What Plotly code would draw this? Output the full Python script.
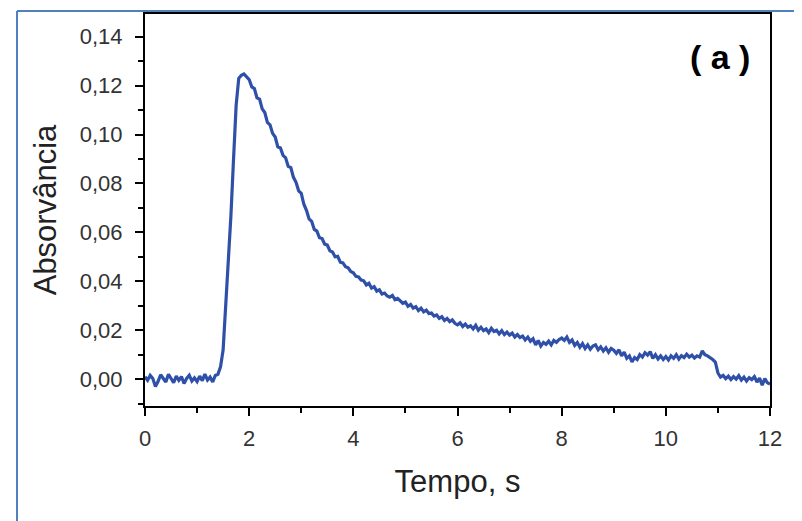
import numpy as np
import plotly.graph_objects as go

# sample times, s (0.05 s grid)
tempo = np.round(np.arange(0, 12.001, 0.05), 2)

# absorbance, one row per second
absorv = [
    # 0.00 - 0.95
    0.0010, -0.0005, 0.0015, 0.0002, -0.0030, -0.0010, 0.0018, 0.0004, -0.0012, 0.0020,
    0.0000, -0.0015, 0.0012, -0.0005, 0.0010, -0.0018, 0.0003, 0.0016, -0.0008, 0.0005,
    # 1.00 - 1.95
    -0.0010, 0.0012, -0.0006, 0.0020, -0.0004, 0.0008, -0.0012, 0.0015, 0.0020, 0.0050,
    0.0120, 0.0300, 0.0480, 0.0670, 0.0900, 0.1120, 0.1230, 0.1242, 0.1248, 0.1238,
    # 2.00 - 2.95
    0.1225, 0.1195, 0.1188, 0.1150, 0.1145, 0.1105, 0.1090, 0.1050, 0.1040, 0.1005,
    0.0990, 0.0950, 0.0945, 0.0915, 0.0905, 0.0870, 0.0865, 0.0825, 0.0805, 0.0770,
    # 3.00 - 3.95
    0.0760, 0.0715, 0.0690, 0.0655, 0.0645, 0.0612, 0.0605, 0.0578, 0.0575, 0.0552,
    0.0548, 0.0525, 0.0520, 0.0500, 0.0502, 0.0478, 0.0475, 0.0460, 0.0455, 0.0440,
    # 4.00 - 4.95
    0.0435, 0.0420, 0.0418, 0.0405, 0.0402, 0.0385, 0.0392, 0.0372, 0.0378, 0.0360,
    0.0365, 0.0348, 0.0352, 0.0340, 0.0335, 0.0342, 0.0325, 0.0330, 0.0318, 0.0310,
    # 5.00 - 5.95
    0.0315, 0.0298, 0.0305, 0.0290, 0.0296, 0.0280, 0.0290, 0.0275, 0.0282, 0.0268,
    0.0270, 0.0258, 0.0262, 0.0248, 0.0255, 0.0240, 0.0248, 0.0235, 0.0242, 0.0228,
    # 6.00 - 6.95
    0.0222, 0.0230, 0.0215, 0.0225, 0.0212, 0.0218, 0.0205, 0.0220, 0.0200, 0.0212,
    0.0198, 0.0205, 0.0190, 0.0208, 0.0195, 0.0200, 0.0185, 0.0198, 0.0182, 0.0192,
    # 7.00 - 7.95
    0.0180, 0.0188, 0.0172, 0.0182, 0.0170, 0.0176, 0.0160, 0.0172, 0.0155, 0.0165,
    0.0140, 0.0158, 0.0135, 0.0150, 0.0142, 0.0155, 0.0140, 0.0158, 0.0150, 0.0162,
    # 8.00 - 8.95
    0.0168, 0.0158, 0.0172, 0.0150, 0.0160, 0.0138, 0.0150, 0.0130, 0.0145, 0.0125,
    0.0140, 0.0122, 0.0135, 0.0140, 0.0120, 0.0132, 0.0115, 0.0128, 0.0110, 0.0125,
    # 9.00 - 9.95
    0.0118, 0.0105, 0.0120, 0.0095, 0.0110, 0.0085, 0.0095, 0.0070, 0.0088, 0.0080,
    0.0100, 0.0090, 0.0108, 0.0098, 0.0112, 0.0085, 0.0100, 0.0082, 0.0095, 0.0080,
    # 10.00 - 10.95
    0.0092, 0.0078, 0.0095, 0.0085, 0.0100, 0.0082, 0.0096, 0.0088, 0.0102, 0.0090,
    0.0098, 0.0086, 0.0095, 0.0090, 0.0115, 0.0100, 0.0095, 0.0088, 0.0080, 0.0070,
    # 11.00 - 11.95
    0.0025, 0.0008, 0.0015, 0.0002, 0.0012, -0.0002, 0.0010, 0.0000, 0.0014, -0.0004,
    0.0008, -0.0008, 0.0006, -0.0002, 0.0010, -0.0012, 0.0004, -0.0025, 0.0002, -0.0015,
    # 12.00
    -0.0020,
]

x_ticks = [0, 2, 4, 6, 8, 10, 12]
y_ticks = [0.00, 0.02, 0.04, 0.06, 0.08, 0.10, 0.12, 0.14]

# page has an 8px body margin, so the figure is 8px smaller each way
W, H = 794, 513
ML, MR, MT, MB = 137, 32, 4, 115
pw, ph = W - ML - MR, H - MT - MB

def px(x):  # figure pixel -> paper x
    return (x - ML) / pw

def py(y):  # figure pixel -> paper y
    return (H - MB - y) / ph

font = "Liberation Sans, Arial, sans-serif"

fig = go.Figure()
fig.add_trace(go.Scatter(
    x=tempo, y=absorv,
    mode='lines',
    line=dict(color='#2f50a8', width=3.2),
    hoverinfo='skip'
))

axis_common = dict(
    showline=True, linecolor='black', linewidth=2, mirror=True,
    ticks='outside', ticklen=8, tickwidth=2, tickcolor='black',
    showgrid=False, zeroline=False,
    tickfont=dict(family=font, size=22, color='#333'),
)

fig.update_layout(
    width=W, height=H,
    showlegend=False,
    plot_bgcolor='white',
    paper_bgcolor='white',
    separators=',.',
    margin=dict(l=ML, r=MR, t=MT, b=MB),
    xaxis=dict(
        range=[0, 12], tickvals=x_ticks, tickformat='d',
        minor=dict(dtick=1, tick0=0, ticks='outside', ticklen=5, tickwidth=2, tickcolor='black'),
        title=dict(text='Tempo, s', font=dict(family=font, size=31, color='#222'), standoff=20),
        ticklabelstandoff=4,
        **axis_common,
    ),
    yaxis=dict(
        range=[-0.011, 0.1493], tickvals=y_ticks, tickformat='.2f',
        minor=dict(dtick=0.01, tick0=0, ticks='outside', ticklen=5, tickwidth=2, tickcolor='black'),
        title=dict(text='Absorvância', font=dict(family=font, size=31, color='#222'), standoff=14),
        ticklabelstandoff=8,
        **axis_common,
    ),
    annotations=[dict(
        x=px(744), y=py(47), xref='paper', yref='paper',
        xanchor='right', yanchor='middle', showarrow=False,
        text='<b>( a )</b>', font=dict(family=font, size=34, color='black'),
    )],
    shapes=[
        # light blue frame of the source figure (left and top edges)
        dict(type='line', xref='paper', yref='paper',
             x0=px(9), x1=px(9), y0=py(1), y1=py(H + 5),
             line=dict(color='#4f81bd', width=2)),
        dict(type='line', xref='paper', yref='paper',
             x0=px(9), x1=px(W + 5), y0=py(1), y1=py(1),
             line=dict(color='#4f81bd', width=2)),
    ],
)

fig.write_html("out.html")
